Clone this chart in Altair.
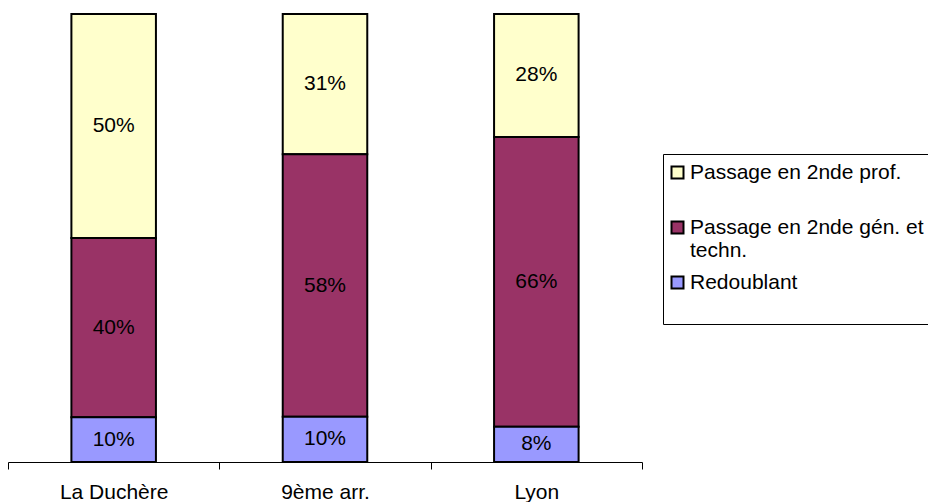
import altair as alt
import pandas as pd

categories = ["La Duchère", "9ème arr.", "Lyon"]
series = ["Passage en 2nde prof.", "Passage en 2nde gén. et techn.", "Redoublant"]
prof = [50, 31, 28]
gen = [40, 58, 66]
redoublant = [10, 10, 8]
colors = ["#FFFFCC", "#993366", "#9999FF"]
stack_order = {"Redoublant": 0, "Passage en 2nde gén. et techn.": 1, "Passage en 2nde prof.": 2}

rows = []
for i, c in enumerate(categories):
    for s, vals in zip(series, [prof, gen, redoublant]):
        rows.append({"cat": c, "serie": s, "value": vals[i], "order": stack_order[s]})
df = pd.DataFrame(rows)

FONT = "Liberation Sans"

base = alt.Chart(df).transform_stack(
    stack="value", groupby=["cat"], as_=["y0", "y1"], offset="normalize",
    sort=[alt.SortField("order", order="ascending")]
).transform_calculate(
    mid="(datum.y0 + datum.y1) / 2",
    lab="datum.value + '%'"
)

x_axis = alt.Axis(labelAngle=0, tickBand="extent", domainColor="black",
                  tickColor="black", tickSize=7, domainWidth=1, tickWidth=1,
                  ticks=True,
                  labelFont=FONT, labelFontSize=21, labelColor="black",
                  labelPadding=12, grid=False)
x_scale = alt.Scale(paddingInner=0, paddingOuter=0)
y_scale = alt.Scale(domain=[0, 1], nice=False)

label_expr = ("datum.label == 'Passage en 2nde gén. et techn.' ? "
              "['Passage en 2nde gén. et', 'techn.'] : [datum.label, '']")

bars = base.mark_bar(stroke="black", strokeWidth=2, width=alt.RelativeBandSize(0.4)).encode(
    x=alt.X("cat:N", sort=categories, title=None, scale=x_scale, axis=x_axis),
    y=alt.Y("y0:Q", scale=y_scale, axis=None),
    y2="y1:Q",
    color=alt.Color("serie:N", sort=series,
                    scale=alt.Scale(domain=series, range=colors),
                    legend=alt.Legend(
                        title=None, orient="none", legendX=655, legendY=140,
                        symbolType="square", symbolSize=144, symbolStrokeColor="black",
                        symbolStrokeWidth=2, symbolOpacity=1, symbolOffset=-4,
                        labelFont=FONT, labelFontSize=21, labelColor="black",
                        labelLimit=400, labelOffset=2, rowPadding=10,
                        strokeColor="black", fillColor="white", padding=8,
                        labelExpr=label_expr
                    ))
)

texts = base.mark_text(font=FONT, fontSize=21, color="black").encode(
    x=alt.X("cat:N", sort=categories, title=None, scale=x_scale, axis=x_axis),
    y=alt.Y("mid:Q", scale=y_scale, axis=None),
    text="lab:N"
)

chart = alt.layer(bars, texts).properties(
    width=634, height=448,
    autosize=alt.AutoSizeParams(type="none"),
    padding={"left": 8, "top": 14, "right": 286, "bottom": 40},
    background="white"
).configure_view(stroke=None)

chart.save("out.html", embed_options={"renderer": "svg", "actions": False})
